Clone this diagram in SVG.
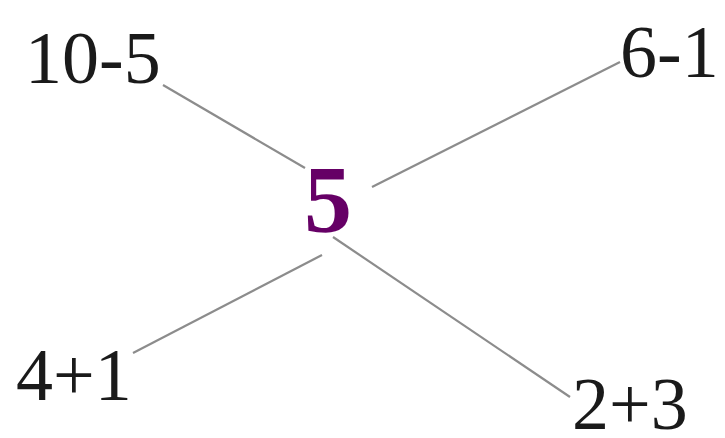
<svg xmlns="http://www.w3.org/2000/svg" width="725" height="438" viewBox="0 0 725 438">
<style>
.lbl{font-family:"Liberation Serif","Times New Roman",serif;font-size:74px;fill:#1a1a1a}
.ctr{font-family:"Liberation Serif","Times New Roman",serif;font-size:96px;font-weight:bold;fill:#660066}
.edge{stroke:#8c8c8c;stroke-width:2.2;fill:none}
</style>
<rect width="725" height="438" fill="#ffffff"/>
<g id="connectors">
<line class="edge" x1="163" y1="85" x2="305" y2="168"/>
<line class="edge" x1="620" y1="62" x2="372" y2="187"/>
<line class="edge" x1="133" y1="353" x2="322" y2="255"/>
<line class="edge" x1="333" y1="237" x2="570" y2="397"/>
</g>
<g id="center"><text class="ctr" x="328" y="232" text-anchor="middle">5</text></g>
<g id="n10-5"><text class="lbl" x="25" y="83">10-5</text></g>
<g id="n6-1"><text class="lbl" x="620" y="77">6-1</text></g>
<g id="n4+1"><text class="lbl" x="16" y="400">4+1</text></g>
<g id="n2+3"><text class="lbl" x="572" y="429">2+3</text></g>
</svg>
